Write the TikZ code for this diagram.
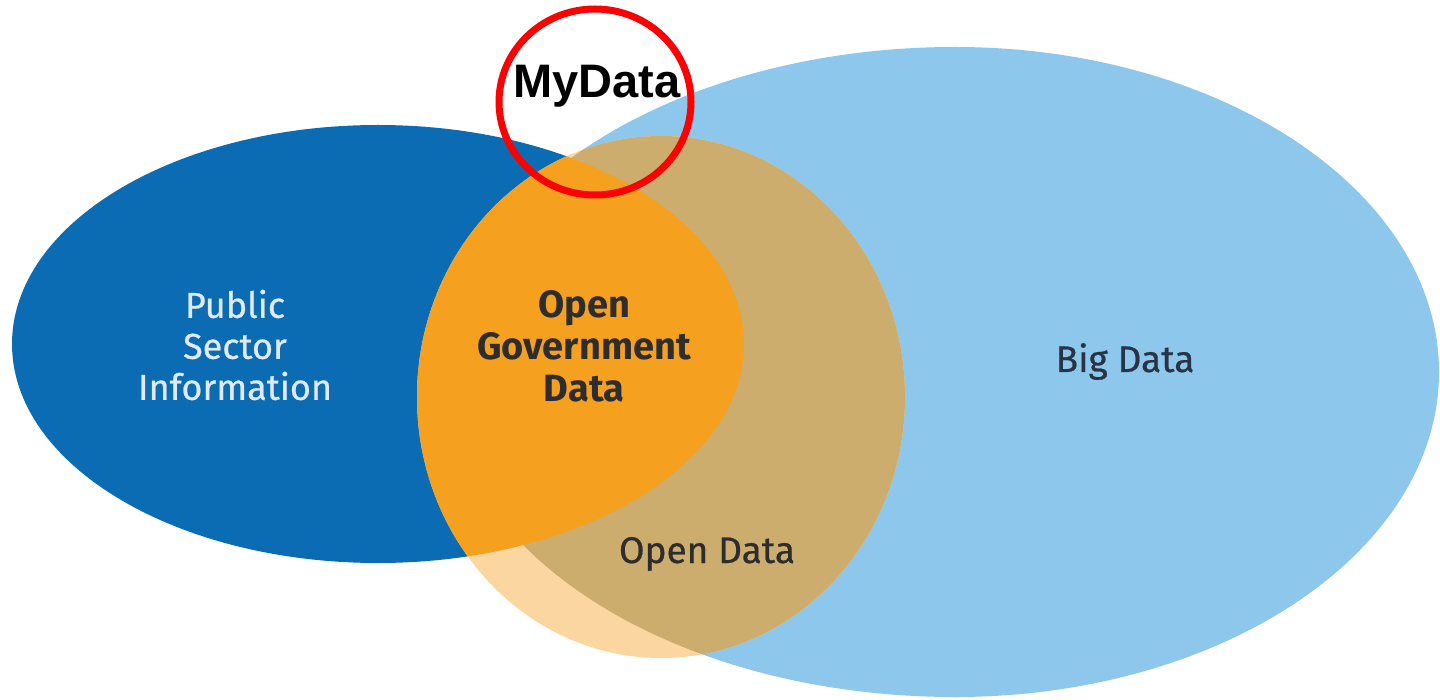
\documentclass[tikz,border=0pt]{standalone}
\usepackage{fontspec}
\setmainfont{Fira Sans}
\newfontfamily\labelfont[FakeBold=0.6]{Fira Sans}
\newfontfamily\arialfont{Liberation Sans}
\definecolor{darkblue}{RGB}{11,108,180}
\definecolor{lightblue}{RGB}{141,200,236}
\definecolor{orangefill}{RGB}{245,160,30}
\definecolor{tanfill}{RGB}{205,173,110}
\definecolor{peach}{RGB}{252,214,160}
\definecolor{labeldark}{RGB}{45,45,45}
\definecolor{labelslate}{RGB}{40,52,70}
\definecolor{labellight}{RGB}{225,234,242}
\tikzset{
  label36/.style={font=\labelfont\fontsize{36}{41}\selectfont, align=center, inner sep=0pt},
  label38/.style={font=\labelfont\fontsize{37}{41}\selectfont, inner sep=0pt, anchor=base},
}
\begin{document}
\begin{tikzpicture}[x=1pt,y=-1pt]
\useasboundingbox (0,0) rectangle (1440,700);
\def\bigdatapath{(955,47) arc[start angle=270,end angle=90,x radius=510,y radius=325] arc[start angle=90,end angle=-90,x radius=484,y radius=325] -- cycle}
\def\psipath{(378,344) ellipse [x radius=366, y radius=219]}
\def\odpath{(661,397) ellipse [x radius=244, y radius=261]}
% Big Data
\fill[lightblue] \bigdatapath;
% Public Sector Information
\fill[darkblue] \psipath;
% Open Data
\fill[peach] \odpath;
\begin{scope}
  \clip \odpath;
  \fill[tanfill] \bigdatapath;
  \fill[orangefill] \psipath;
\end{scope}
% labels
\node[label36, text=labellight] (psi) at (235,345) {Public\\Sector\\Information};
\node[label36, text=labeldark, font=\fontsize{38}{42}\selectfont\bfseries] (ogd) at (584,346) {Open\\Government\\Data};
\node[label38, text=labelslate] (bd) at (1125,372) {Big Data};
\node[label38, text=labeldark] (od) at (707,563) {Open Data};
% MyData
\draw[red, line width=7pt] (595,102) ellipse [x radius=96, y radius=93];
\node[font=\arialfont\bfseries\fontsize{47}{47}\selectfont, inner sep=0pt, anchor=base] (my) at (597,98) {MyData};
\end{tikzpicture}
\end{document}
